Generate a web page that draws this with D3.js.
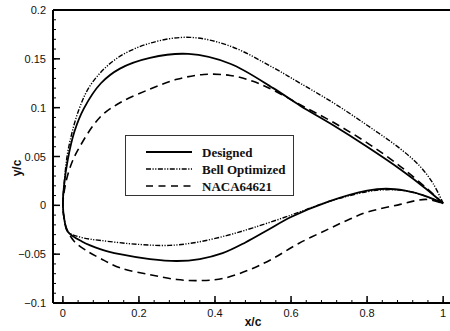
<!DOCTYPE html>
<html>
<head>
<meta charset="utf-8">
<script src="https://cdn.jsdelivr.net/npm/d3@7"></script>
<style>
  body { margin: 0; background: #fff; }
  svg { display: block; }
  .tick-label { font-family: Arial, "Liberation Sans", sans-serif; font-size: 11px; fill: #111; }
  .axis-title { font-family: Arial, "Liberation Sans", sans-serif; font-size: 12px; font-weight: bold; fill: #111; }
  .legend-text { font-family: "Times New Roman", "Liberation Serif", serif; font-size: 13px; font-weight: bold; fill: #111; }
</style>
</head>
<body>
<svg width="450" height="331"></svg>
<script>
// airfoil coordinates, [x/c, y/c], leading edge -> trailing edge
var designedUpper = [[0,0],[0.003,0.02],[0.013,0.047],[0.03,0.075],[0.055,0.099],[0.1,0.125],[0.15,0.14],[0.229,0.151],[0.33,0.155],[0.44,0.145],[0.553,0.12],[0.624,0.102],[0.711,0.082],[0.8,0.06],[0.887,0.037],[0.958,0.016],[1,0.002]];
var designedLower = [[0,0],[0.004,-0.015],[0.013,-0.027],[0.05,-0.037],[0.1,-0.045],[0.15,-0.05],[0.229,-0.055],[0.3,-0.057],[0.36,-0.055],[0.42,-0.049],[0.48,-0.038],[0.54,-0.025],[0.6,-0.012],[0.7,0.004],[0.8,0.015],[0.85,0.017],[0.9,0.015],[0.95,0.01],[1,0.002]];

var bellUpper = [[0,0],[0.004,0.025],[0.014,0.057],[0.043,0.099],[0.076,0.125],[0.14,0.15],[0.229,0.166],[0.334,0.172],[0.44,0.163],[0.553,0.141],[0.624,0.125],[0.711,0.105],[0.8,0.082],[0.887,0.058],[0.939,0.04],[0.974,0.022],[1,0.002]];
var bellLower = [[0,0],[0.004,-0.015],[0.013,-0.027],[0.05,-0.033],[0.1,-0.036],[0.2,-0.04],[0.28,-0.041],[0.35,-0.038],[0.43,-0.031],[0.5,-0.023],[0.6,-0.01],[0.7,0.004],[0.8,0.014],[0.85,0.016],[0.9,0.015],[0.95,0.01],[1,0.002]];

var nacaUpper = [[0,0],[0.006,0.02],[0.02,0.04],[0.04,0.057],[0.097,0.09],[0.15,0.105],[0.229,0.119],[0.3,0.129],[0.37,0.134],[0.44,0.133],[0.5,0.127],[0.553,0.118],[0.624,0.103],[0.711,0.085],[0.8,0.064],[0.887,0.04],[0.958,0.017],[1,0.002]];
var nacaLower = [[0,0],[0.004,-0.015],[0.01,-0.024],[0.03,-0.037],[0.06,-0.046],[0.097,-0.054],[0.15,-0.064],[0.229,-0.071],[0.3,-0.076],[0.36,-0.077],[0.42,-0.075],[0.49,-0.066],[0.55,-0.055],[0.62,-0.039],[0.7,-0.024],[0.755,-0.014],[0.8,-0.007],[0.887,0.001],[0.93,0.005],[0.958,0.006],[1,0.002]];

var seriesNames = ["Designed", "Bell Optimized", "NACA64621"];
var xTicks = [0, 0.2, 0.4, 0.6, 0.8, 1];
var yTicks = [-0.1, -0.05, 0, 0.05, 0.1, 0.15, 0.2];

var svg = d3.select("svg");

var x = d3.scaleLinear().domain([-0.026, 1.018]).range([53, 450]);
var y = d3.scaleLinear().domain([-0.1, 0.2]).range([303, 10]);

// frame: left, top, bottom (right side is cut off)
svg.append("line").attr("x1", x(-0.026)).attr("x2", x(-0.026)).attr("y1", y(0.2)).attr("y2", y(-0.1))
    .attr("stroke", "#000").attr("stroke-width", 2);
svg.append("line").attr("x1", x(-0.026)).attr("x2", 450).attr("y1", y(0.2)).attr("y2", y(0.2))
    .attr("stroke", "#000").attr("stroke-width", 2);
svg.append("line").attr("x1", x(-0.026)).attr("x2", 450).attr("y1", y(-0.1)).attr("y2", y(-0.1))
    .attr("stroke", "#000").attr("stroke-width", 2);

// x ticks, pointing up into the plot
var xMinor = d3.range(0, 1.0001, 0.04);
svg.selectAll(".xminor").data(xMinor).enter().append("line")
    .attr("x1", function(d){ return x(d); }).attr("x2", function(d){ return x(d); })
    .attr("y1", y(-0.1)).attr("y2", y(-0.1) - 3)
    .attr("stroke", "#000").attr("stroke-width", 1);
svg.selectAll(".xmajor").data(xTicks).enter().append("line")
    .attr("x1", function(d){ return x(d); }).attr("x2", function(d){ return x(d); })
    .attr("y1", y(-0.1)).attr("y2", y(-0.1) - 7)
    .attr("stroke", "#000").attr("stroke-width", 1.5);
svg.selectAll(".xlab").data(xTicks).enter().append("text")
    .attr("class", "tick-label")
    .attr("x", function(d){ return x(d); }).attr("y", 317)
    .attr("text-anchor", "middle")
    .text(function(d){ return d3.format("")(d); });

// y ticks, pointing right into the plot
var yMinor = d3.range(-0.1, 0.2001, 0.01);
svg.selectAll(".yminor").data(yMinor).enter().append("line")
    .attr("x1", x(-0.026)).attr("x2", x(-0.026) + 3)
    .attr("y1", function(d){ return y(d); }).attr("y2", function(d){ return y(d); })
    .attr("stroke", "#000").attr("stroke-width", 1);
svg.selectAll(".ymajor").data(yTicks).enter().append("line")
    .attr("x1", x(-0.026)).attr("x2", x(-0.026) + 7)
    .attr("y1", function(d){ return y(d); }).attr("y2", function(d){ return y(d); })
    .attr("stroke", "#000").attr("stroke-width", 1.5);
svg.selectAll(".ylab").data(yTicks).enter().append("text")
    .attr("class", "tick-label")
    .attr("x", 46).attr("y", function(d){ return y(d) + 4; })
    .attr("text-anchor", "end")
    .text(function(d){ return d3.format("")(d); });

// axis titles
svg.append("text").attr("class", "axis-title")
    .attr("x", 253).attr("y", 326).attr("text-anchor", "middle").text("x/c");
svg.append("text").attr("class", "axis-title")
    .attr("transform", "translate(21,168) rotate(-90)")
    .attr("text-anchor", "middle").text("y/c");

// airfoils: trailing edge over the upper side to the nose, then back along the lower side
var line = d3.line()
    .x(function(d){ return x(d[0]); })
    .y(function(d){ return y(d[1]); })
    .curve(d3.curveCatmullRom.alpha(0.5));

function outline(upper, lower){
    return upper.slice().reverse().concat(lower.slice(1));
}

var styles = [
    {dash: null, width: 1.8},
    {dash: "5,1.5,1.2,1.5,1.2,1.5", width: 1.4},
    {dash: "8,5", width: 1.6}
];
var shapes = [
    outline(designedUpper, designedLower),
    outline(bellUpper, bellLower),
    outline(nacaUpper, nacaLower)
];

for (var i = 0; i < shapes.length; i++) {
    svg.append("path")
        .attr("d", line(shapes[i]))
        .attr("fill", "none")
        .attr("stroke", "#000")
        .attr("stroke-width", styles[i].width)
        .attr("stroke-dasharray", styles[i].dash);
}

// legend
var lg = svg.append("g");
lg.append("rect").attr("x", 125.5).attr("y", 135.5).attr("width", 168).attr("height", 60)
    .attr("fill", "#fff").attr("stroke", "#333").attr("stroke-width", 1);
var rowsY = [152, 169, 186];
for (var j = 0; j < seriesNames.length; j++) {
    lg.append("line")
        .attr("x1", 146).attr("x2", 192)
        .attr("y1", rowsY[j]).attr("y2", rowsY[j])
        .attr("stroke", "#000")
        .attr("stroke-width", styles[j].width)
        .attr("stroke-dasharray", j == 2 ? "7,5.5" : styles[j].dash);
    lg.append("text").attr("class", "legend-text")
        .attr("x", 202).attr("y", rowsY[j] + 4.5)
        .text(seriesNames[j]);
}
</script>
</body>
</html>
